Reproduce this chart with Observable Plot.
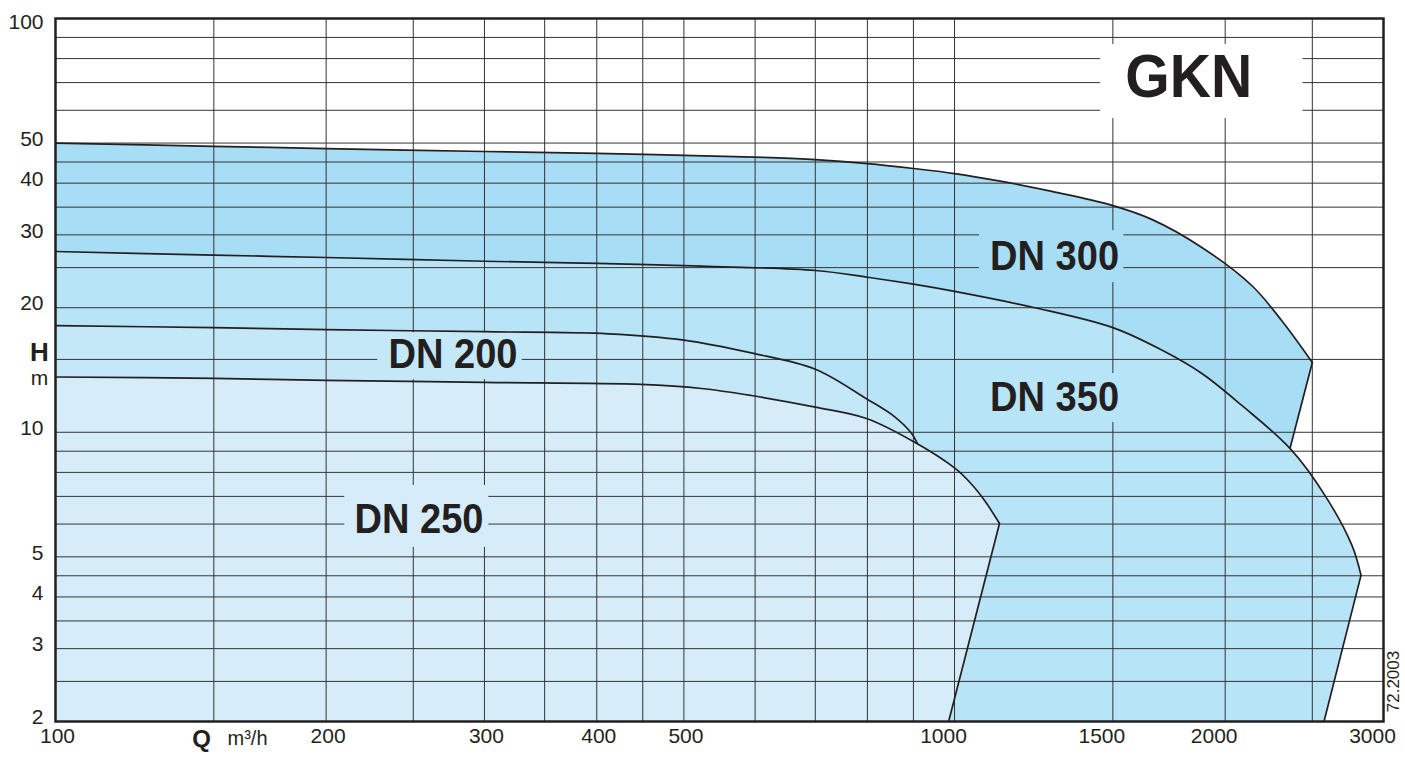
<!DOCTYPE html>
<html>
<head>
<meta charset="utf-8">
<script src="https://cdn.jsdelivr.net/npm/d3@7"></script>
<script src="https://cdn.jsdelivr.net/npm/@observablehq/plot@0.6"></script>
<style>
html, body { margin: 0; padding: 0; background: #ffffff; }
#chart svg { display: block; }
</style>
</head>
<body>
<div id="chart"></div>
<script>
// ---------- data (Q in m3/h, H in m) ----------
const qDomain = [100, 3000];
const hDomain = [2, 100];

const xGrid = [100, 150, 200, 250, 300, 350, 400, 450, 500, 600, 700, 800, 900, 1000, 1500, 2000, 2500, 3000];
const yGrid = [2, 2.5, 3, 3.5, 4, 4.5, 5, 6, 7, 8, 9, 10, 15, 20, 25, 30, 35, 40, 45, 50, 60, 70, 80, 90, 100];

const xTickLabels3 = [100, 200, 300, 400, 500];
const xTickLabels4 = [1000, 1500, 2000, 3000];
const yTickLabels = [2, 3, 4, 5, 10, 20, 30, 40, 50];
const yTickTop = [100];

// DN 300 envelope (upper curve) and its straight right edge
const dn300Curve = [[100, 50], [150, 49.1], [200, 48.5], [300, 47.7], [400, 47.2], [500, 46.7], [625, 46.1],
  [700, 45.6], [800, 44.6], [900, 43.4], [1000, 42.2], [1128, 40.4], [1283, 38.2], [1500, 35.3],
  [1657, 32.7], [1884, 27.97], [2142, 22.6], [2312, 18.6], [2500, 14.75]];
const dn300Edge = [[2500, 14.75], [2361, 9.14]];

// DN 350 envelope
const dn350Curve = [[100, 27.35], [150, 26.8], [200, 26.45], [300, 25.9], [400, 25.6], [523, 25.2], [700, 24.6],
  [800, 23.7], [900, 22.8], [1000, 21.9], [1228, 20.0], [1500, 17.9], [1700, 15.8], [1884, 13.87],
  [2087, 11.61], [2361, 9.14], [2582, 7.04], [2768, 5.32], [2832, 4.51]];
const dn350Edge = [[2832, 4.51], [2576, 2]];

// DN 200 envelope
const dn200Curve = [[100, 18.1], [150, 17.9], [200, 17.7], [300, 17.5], [412, 17.3], [500, 16.7], [594, 15.55],
  [700, 14.2], [798, 12.05], [858, 10.9], [896, 9.93], [909, 9.4]];

// DN 250 envelope
const dn250Curve = [[100, 13.6], [150, 13.5], [200, 13.35], [300, 13.2], [448, 13.05], [523, 12.76], [594, 12.27],
  [700, 11.5], [798, 10.8], [900, 9.5], [1000, 8.2], [1044, 7.5], [1080, 6.84], [1122, 6.02]];
const dn250Edge = [[1122, 6.02], [985, 2]];

// labels and the plain panels behind them
const curveLabels = [
  {text: "DN 300", q: 1292, h: 26.9},
  {text: "DN 350", q: 1292, h: 12.27},
  {text: "DN 200", q: 276.8, h: 15.59},
  {text: "DN 250", q: 253.7, h: 6.22}
];
const titleLabel = [{text: "GKN", q: 1822, h: 72.8}];

// ---------- styles ----------
const C300 = "#a8ddf6";
const C350 = "#b8e4f8";
const C200 = "#c5e8f9";
const C250 = "#d6edf9";
const INK = "#231f20";
const GRID = "#333333";
const FONT = "'Liberation Sans', Arial, Helvetica, sans-serif";

const labelBoxes = [
  {q1: 1454, q2: 2441, h1: 57.3, h2: 86.5, fill: "#ffffff"},
  {q1: 1066, q2: 1543, h1: 23.0, h2: 30.7, fill: C300},
  {q1: 1066, q2: 1543, h1: 10.56, h2: 13.87, fill: C350},
  {q1: 228.3, q2: 330.4, h1: 13.4, h2: 17.4, fill: C200},
  {q1: 209.8, q2: 303.4, h1: 5.27, h2: 7.44, fill: C250}
];

// ---------- build ----------
const rows = pts => pts.map(([q, h]) => ({q, h}));
const qMin = qDomain[0], hMin = hDomain[0];
const dn300Fill = [...dn300Curve, dn300Edge[1], [dn300Edge[1][0], hMin], [qMin, hMin]];
const dn350Fill = [...dn350Curve, dn350Edge[1], [qMin, hMin]];
const dn200Fill = [...dn200Curve, [dn200Curve[dn200Curve.length - 1][0], hMin], [qMin, hMin]];
const dn250Fill = [...dn250Curve, dn250Edge[1], [qMin, hMin]];

const chart = Plot.plot({
  width: 1405,
  height: 758,
  marginLeft: 55,
  marginRight: 22,
  marginTop: 18,
  marginBottom: 37,
  x: {type: "log", domain: qDomain, axis: null},
  y: {type: "log", domain: hDomain, axis: null},
  color: {type: "identity"},
  style: {fontFamily: FONT, fontSize: "20px", color: INK, background: "#ffffff"},
  marks: [
    Plot.line(rows(dn300Fill), {x: "q", y: "h", fill: C300, stroke: "none"}),
    Plot.line(rows(dn350Fill), {x: "q", y: "h", fill: C350, stroke: "none"}),
    Plot.line(rows(dn200Fill), {x: "q", y: "h", fill: C200, stroke: "none"}),
    Plot.line(rows(dn250Fill), {x: "q", y: "h", fill: C250, stroke: "none"}),

    Plot.ruleX(xGrid, {stroke: GRID, strokeWidth: 1}),
    Plot.ruleY(yGrid, {stroke: GRID, strokeWidth: 1}),

    Plot.rect(labelBoxes, {x1: "q1", x2: "q2", y1: "h1", y2: "h2", fill: "fill"}),

    Plot.line(rows(dn300Curve), {x: "q", y: "h", curve: "catmull-rom", stroke: INK, strokeWidth: 1.7}),
    Plot.line(rows(dn300Edge), {x: "q", y: "h", stroke: INK, strokeWidth: 1.7}),
    Plot.line(rows(dn350Curve), {x: "q", y: "h", curve: "catmull-rom", stroke: INK, strokeWidth: 1.7}),
    Plot.line(rows(dn350Edge), {x: "q", y: "h", stroke: INK, strokeWidth: 1.7}),
    Plot.line(rows(dn200Curve), {x: "q", y: "h", curve: "catmull-rom", stroke: INK, strokeWidth: 1.7}),
    Plot.line(rows(dn250Curve), {x: "q", y: "h", curve: "catmull-rom", stroke: INK, strokeWidth: 1.7}),
    Plot.line(rows(dn250Edge), {x: "q", y: "h", stroke: INK, strokeWidth: 1.7}),

    Plot.frame({stroke: INK, strokeWidth: 2.5}),

    // tick labels
    Plot.text(yTickLabels, {y: d => d, frameAnchor: "left", dx: -12, dy: -4, textAnchor: "end", text: d => String(d), fill: INK, fontSize: 21}),
    Plot.text(yTickTop, {y: d => d, frameAnchor: "left", dx: -12, dy: 4, textAnchor: "end", text: d => String(d), fill: INK, fontSize: 21}),
    Plot.text(xTickLabels3, {x: d => d, frameAnchor: "bottom", dx: 2, dy: 21, textAnchor: "middle", text: d => String(d), fill: INK, fontSize: 21}),
    Plot.text(xTickLabels4, {x: d => d, frameAnchor: "bottom", dx: -11, dy: 21, textAnchor: "middle", text: d => String(d), fill: INK, fontSize: 21}),

    // axis titles
    Plot.text(["H"], {frameAnchor: "left", dx: -16, dy: -17, textAnchor: "middle", text: d => d, fontWeight: "bold", fontSize: 26, fill: INK}),
    Plot.text(["m"], {frameAnchor: "left", dx: -16, dy: 8, textAnchor: "middle", text: d => d, fontSize: 21, fill: INK}),
    Plot.text(["Q"], {frameAnchor: "bottom-left", dx: 146, dy: 25, textAnchor: "middle", text: d => d, fontWeight: "bold", fontSize: 24, fill: INK}),
    Plot.text(["m³/h"], {frameAnchor: "bottom-left", dx: 172, dy: 23, textAnchor: "start", text: d => d, fontSize: 20, fill: INK}),
    Plot.text(["72.2003"], {frameAnchor: "bottom-right", dx: 15, dy: -40, rotate: -90, textAnchor: "middle", text: d => d, fontSize: 17, fill: INK}),

    // curve labels and title
    Plot.text(curveLabels, {x: "q", y: "h", text: "text", textAnchor: "middle", fontWeight: "bold", fontSize: 43, dy: 2, fill: INK}),
    Plot.text(titleLabel, {x: "q", y: "h", text: "text", textAnchor: "middle", fontWeight: "bold", fontSize: 61, dy: 2, fill: INK})
  ]
});

// slightly condensed lettering as in the original
d3.select(chart).selectAll("text").each(function () {
  const t = this.textContent;
  if (t.startsWith("DN ")) d3.select(this).attr("textLength", 129).attr("lengthAdjust", "spacingAndGlyphs");
  if (t === "GKN") d3.select(this).attr("textLength", 127).attr("lengthAdjust", "spacingAndGlyphs");
});

document.getElementById("chart").append(chart);
</script>
</body>
</html>
